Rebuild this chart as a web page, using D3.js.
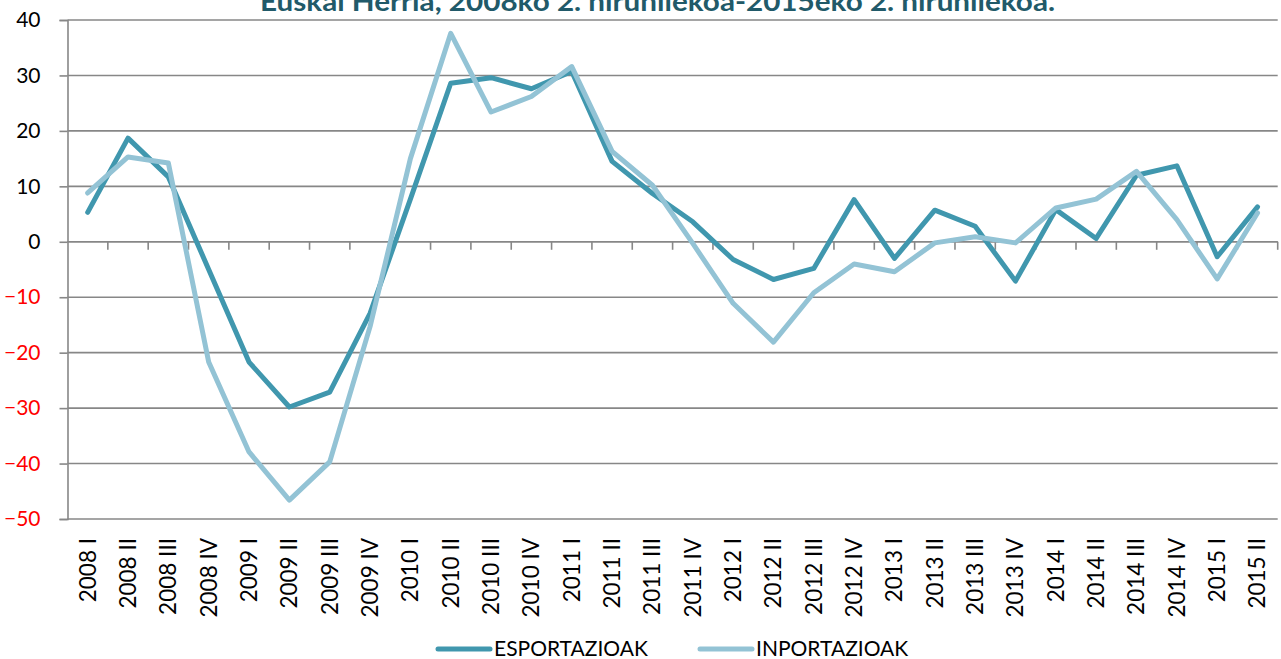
<!DOCTYPE html>
<html>
<head>
<meta charset="utf-8">
<script src="https://cdn.jsdelivr.net/npm/d3@7"></script>
<style>
  body { margin: 0; background: #fff; }
  svg { display: block; }
  text { font-family: Lato, "Open Sans", sans-serif; }
</style>
</head>
<body>
<div id="chart"></div>
<script>
var title = "Euskal Herria, 2008ko 2. hiruhilekoa-2015eko 2. hiruhilekoa.";

var quarters = ["2008 I", "2008 II", "2008 III", "2008 IV",
  "2009 I", "2009 II", "2009 III", "2009 IV",
  "2010 I", "2010 II", "2010 III", "2010 IV",
  "2011 I", "2011 II", "2011 III", "2011 IV",
  "2012 I", "2012 II", "2012 III", "2012 IV",
  "2013 I", "2013 II", "2013 III", "2013 IV",
  "2014 I", "2014 II", "2014 III", "2014 IV",
  "2015 I", "2015 II"];

var esportazioak = [5.3, 18.7, 11.7, -5.0,
  -21.7, -29.8, -27.1, -12.9,
  7.7, 28.6, 29.6, 27.6,
  30.7, 14.5, 8.7, 3.6,
  -3.2, -6.8, -4.8, 7.6,
  -3.0, 5.7, 2.8, -7.1,
  5.8, 0.6, 12.0, 13.7,
  -2.7, 6.3];

var inportazioak = [8.8, 15.3, 14.2, -21.7,
  -37.9, -46.6, -39.7, -15.3,
  15.0, 37.6, 23.4, 26.2,
  31.6, 16.3, 10.2, -0.3,
  -11.1, -18.1, -9.2, -4.0,
  -5.4, -0.2, 0.9, -0.2,
  6.1, 7.7, 12.7, 4.0,
  -6.7, 5.2];

var seriesNames = ["ESPORTAZIOAK", "INPORTAZIOAK"];
var yTicks = [40, 30, 20, 10, 0, -10, -20, -30, -40, -50];

var width = 1281, height = 659;
var plotLeft = 67.5, plotRight = 1277.7, plotTop = 20, plotBottom = 519;
var colors = ["#4097ae", "#93c3d5"];
var gridColor = "#878787";

var svg = d3.select("#chart")
  .append("svg")
    .attr("width", width)
    .attr("height", height);

var x = d3.scaleBand()
  .domain(quarters)
  .range([plotLeft, plotRight]);

var y = d3.scaleLinear()
  .domain([-50, 40])
  .range([plotBottom, plotTop]);

// title, cut off at the top like the original
svg.append("text")
  .attr("x", 260)
  .attr("y", 11)
  .attr("textLength", 795)
  .attr("lengthAdjust", "spacingAndGlyphs")
  .style("font-size", "26px")
  .style("font-weight", "bold")
  .style("fill", "#215a69")
  .text(title);

// gridlines
svg.append("g")
  .selectAll("line")
  .data(yTicks)
  .enter()
  .append("line")
    .attr("x1", plotLeft)
    .attr("x2", plotRight)
    .attr("y1", function(d) { return y(d); })
    .attr("y2", function(d) { return y(d); })
    .attr("stroke", gridColor)
    .attr("stroke-width", 1.6);

// y axis
var yAxis = svg.append("g")
  .attr("transform", "translate(" + plotLeft + ",0)")
  .call(d3.axisLeft(y).tickValues(yTicks).tickSize(8).tickPadding(19));
yAxis.select(".domain").attr("stroke", gridColor).attr("stroke-width", 1.6);
yAxis.selectAll(".tick line").attr("stroke", gridColor).attr("stroke-width", 1.6);
yAxis.selectAll(".tick text")
  .style("font-size", "21px")
  .style("font-family", "Lato, 'Open Sans', sans-serif")
  .attr("fill", function(d) { return d < 0 ? "#ff0000" : "#000"; });

// x axis line at zero with ticks between categories
var zeroY = y(0);
svg.append("line")
  .attr("x1", plotLeft).attr("x2", plotRight)
  .attr("y1", zeroY).attr("y2", zeroY)
  .attr("stroke", gridColor)
  .attr("stroke-width", 1.6);

var bounds = quarters.slice(1).map(function(q) { return x(q); }).concat([plotRight]);
svg.append("g")
  .selectAll("line")
  .data(bounds)
  .enter()
  .append("line")
    .attr("x1", function(d) { return d; })
    .attr("x2", function(d) { return d; })
    .attr("y1", zeroY)
    .attr("y2", zeroY + 8)
    .attr("stroke", gridColor)
    .attr("stroke-width", 1.6);

// category labels under the plot
var xAxis = svg.append("g")
  .attr("transform", "translate(0," + plotBottom + ")")
  .call(d3.axisBottom(x).tickSize(0));
xAxis.select(".domain").remove();
xAxis.selectAll(".tick text")
  .style("font-size", "22.5px")
  .style("font-family", "Lato, 'Open Sans', sans-serif")
  .attr("fill", "#000")
  .attr("transform", "rotate(-90)")
  .attr("x", -19)
  .attr("y", 0)
  .attr("dy", "0.35em")
  .style("text-anchor", "end");

// lines
var line = d3.line()
  .x(function(d, i) { return x(quarters[i]) + x.bandwidth() / 2; })
  .y(function(d) { return y(d); });

[esportazioak, inportazioak].forEach(function(values, k) {
  svg.append("path")
    .datum(values)
    .attr("d", line)
    .attr("fill", "none")
    .attr("stroke", colors[k])
    .attr("stroke-width", 5)
    .attr("stroke-linejoin", "round")
    .attr("stroke-linecap", "round");
});

// legend
var legendX = [438, 700];
var legend = svg.append("g")
  .selectAll("g")
  .data(seriesNames)
  .enter()
  .append("g")
    .attr("transform", function(d, i) { return "translate(" + legendX[i] + ",649)"; });

legend.append("line")
  .attr("x1", 0).attr("x2", 52)
  .attr("y1", 0).attr("y2", 0)
  .attr("stroke", function(d, i) { return colors[i]; })
  .attr("stroke-width", 5)
  .attr("stroke-linecap", "round");

legend.append("text")
  .attr("x", 56)
  .attr("y", 0)
  .attr("dy", "0.33em")
  .style("font-size", "21px")
  .attr("fill", "#000")
  .text(function(d) { return d; });
</script>
</body>
</html>
